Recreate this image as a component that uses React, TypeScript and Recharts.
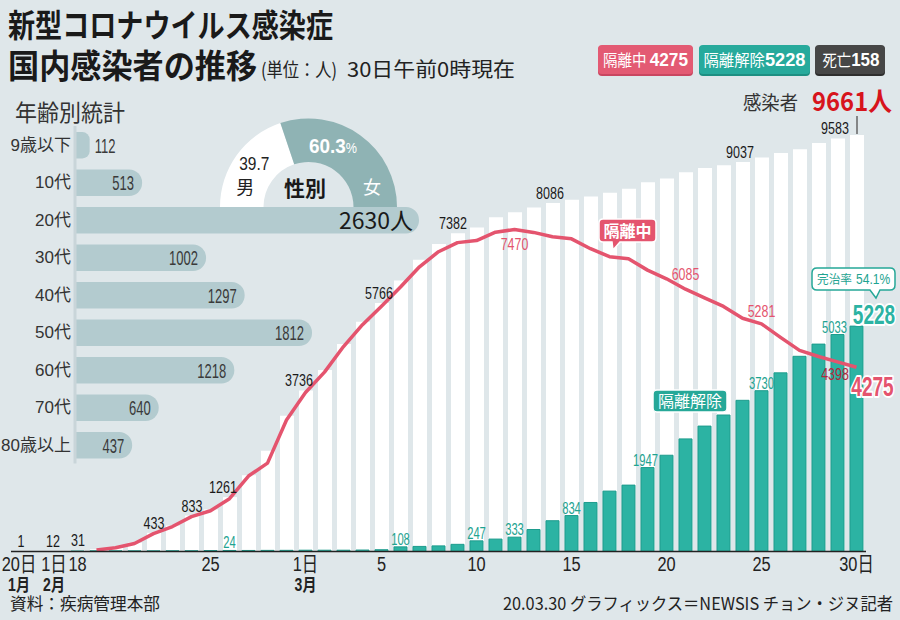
import React from "react";
import { ComposedChart, Bar, Line, XAxis, YAxis, LabelList, BarChart, PieChart, Pie, Cell } from "recharts";

const LSANS = "'Liberation Sans', Arial, 'Noto Sans CJK JP', sans-serif";
const JP = "'Noto Sans CJK JP', 'Noto Sans', sans-serif";

// ---- data ----
const dates = [
  "1/20", "gap", "2/1",
  "2/18", "2/19", "2/20", "2/21", "2/22", "2/23", "2/24", "2/25", "2/26", "2/27", "2/28", "2/29",
  "3/1", "3/2", "3/3", "3/4", "3/5", "3/6", "3/7", "3/8", "3/9", "3/10",
  "3/11", "3/12", "3/13", "3/14", "3/15", "3/16", "3/17", "3/18", "3/19", "3/20",
  "3/21", "3/22", "3/23", "3/24", "3/25", "3/26", "3/27", "3/28", "3/29", "3/30",
];
const confirmed = [
  1, 0, 12,
  31, 51, 104, 204, 433, 602, 833, 977, 1261, 1766, 2337, 3150,
  3736, 4212, 4812, 5328, 5766, 6284, 6767, 7134, 7382, 7513,
  7755, 7869, 7979, 8086, 8162, 8236, 8320, 8413, 8565, 8652,
  8799, 8897, 8961, 9037, 9137, 9241, 9332, 9478, 9583, 9661,
];
const released = [
  0, 0, 0,
  12, 16, 16, 16, 16, 18, 18, 22, 24, 24, 26, 27,
  30, 30, 30, 34, 41, 108, 118, 130, 166, 247,
  288, 333, 510, 714, 834, 1137, 1401, 1540, 1947, 2233,
  2612, 2909, 3166, 3507, 3730, 4144, 4528, 4811, 5033, 5228,
];
const isolated = [
  null, null, null,
  null, 35, 87, 186, 415, 579, 808, 945, 1225, 1750, 2050, 3050,
  3689, 4160, 4754, 5261, 5690, 6134, 6605, 6954, 7165, 7212,
  7407, 7470, 7402, 7300, 7253, 7024, 6838, 6789, 6527, 6325,
  6085, 5884, 5684, 5410, 5281, 4966, 4665, 4523, 4398, 4275,
];

const confirmedLabelDates = ["1/20", "2/1", "2/18", "2/22", "2/24", "2/26", "3/1", "3/5", "3/9", "3/14", "3/24", "3/29"];
const releasedLabelDates = ["2/26", "3/6", "3/10", "3/12", "3/15", "3/19", "3/25", "3/29", "3/30"];
const isolatedLabelDates = ["3/12", "3/21", "3/25", "3/29", "3/30"];

const tickDates = ["1/20", "2/1", "2/18", "2/25", "3/1", "3/5", "3/10", "3/15", "3/20", "3/25", "3/30"];
const tickDayText = ["20日", "1日", "18", "25", "1日", "5", "10", "15", "20", "25", "30日"];
const monthTickDates = ["1/20", "2/1", "3/1"];
const monthText = ["1月", "2月", "3月"];

const ageGroups = ["9歳以下", "10代", "20代", "30代", "40代", "50代", "60代", "70代", "80歳以上"];
const ageCounts = [112, 513, 2630, 1002, 1297, 1812, 1218, 640, 437];
const highlightAge = "20代";

const genderNames = ["男", "女"];
const genderShares = [39.7, 60.3];

const totalInfected = 9661;
const nowIsolated = 4275;
const nowReleased = 5228;
const deaths = 158;
const cureRate = 54.1;

const rows = dates.map((d, i) => ({
  date: d,
  confirmed: confirmed[i],
  released: released[i],
  isolated: isolated[i],
  cLabel: confirmedLabelDates.includes(d) ? confirmed[i] : null,
  rLabel: releasedLabelDates.includes(d) ? released[i] : null,
  iLabel: isolatedLabelDates.includes(d) ? isolated[i] : null,
}));
const ageRows = ageGroups.map((g, i) => ({ group: g, count: ageCounts[i] }));
const genderRows = genderNames.map((n, i) => ({ name: n, share: genderShares[i] }));

// ---- colours ----
const BG = "#dfe7ea";
const PINK = "#e4546e";
const TEAL = "#2cb3a3";
const TEAL_DARK = "#1e9c8d";
const TEAL_TEXT = "#1ea391";

// ---- label styling offsets (presentation only) ----
const cDx: Record<string, number> = { "2/1": -6, "2/26": -7, "3/1": -7, "3/5": -3, "3/9": -5, "3/14": -3, "3/24": -3, "3/29": -3 };
const rDx: Record<string, number> = { "3/19": -2, "3/29": -3 };
const iOff: Record<string, [number, number, string]> = {
  "3/12": [0, 20.5, PINK],
  "3/21": [0, -9, PINK],
  "3/25": [0, -7, PINK],
  "3/29": [-2.5, 18, "#b0283b"],
};
const tickDx: Record<string, number> = { "1/20": -1.5, "2/1": -4.5 };

// condensed text helper (horizontal scale)
const NText = (props: any) => {
  const { x, y, sx = 0.78, anchor = "middle", size = 16, weight, fill = "#222", stroke, strokeWidth, family = LSANS, children } = props;
  return (
    <text transform={`translate(${x},${y}) scale(${sx},1)`} textAnchor={anchor} fontSize={size} fontWeight={weight}
      fontFamily={family} fill={fill} stroke={stroke} strokeWidth={strokeWidth} paintOrder="stroke" strokeLinejoin="round">
      {children}
    </text>
  );
};

const vbOf = (p: any) => {
  const vb = p.viewBox || {};
  return {
    x: vb.x ?? p.x ?? 0,
    y: vb.y ?? p.y ?? 0,
    width: vb.width ?? p.width ?? 0,
    height: vb.height ?? p.height ?? 0,
  };
};
// find the category of a labelled value within its own series
const dateByValue = (series: (number | null)[], v: number) => dates[series.indexOf(v)];

const ConfirmedLabel = (p: any) => {
  if (p.value == null) return null;
  const { x, y, width } = vbOf(p);
  const d = dateByValue(confirmed, p.value);
  return <NText x={x + width / 2 + (cDx[d] ?? 0)} y={y - 4} size={16.5} sx={0.76} fill="#1a1a1a">{p.value}</NText>;
};

const ReleasedLabel = (p: any) => {
  if (p.value == null) return null;
  const { x, y, width } = vbOf(p);
  const d = dateByValue(released, p.value);
  if (d === "3/30") {
    return (
      <NText x={x + width / 2 + 17.5} y={y - 2} size={28} sx={0.68} weight={700} fill={TEAL} stroke="#fff" strokeWidth={4}>
        {p.value}
      </NText>
    );
  }
  return <NText x={x + width / 2 + (rDx[d] ?? 0)} y={y - 2} size={16.5} sx={0.68} fill={TEAL_TEXT}>{p.value}</NText>;
};

const IsolatedLabel = (p: any) => {
  if (p.value == null) return null;
  const { x, y } = vbOf(p);
  const d = dateByValue(isolated, p.value);
  if (d === "3/30") {
    return (
      <NText x={x + 16} y={y + 29} size={28} sx={0.68} weight={700} fill={PINK} stroke="#fff" strokeWidth={4}>
        {p.value}
      </NText>
    );
  }
  const o = iOff[d] ?? [0, -8, PINK];
  return <NText x={x + o[0]} y={y + o[1]} size={16.5} sx={0.75} fill={o[2]}>{p.value}</NText>;
};

const DateTick = (p: any) => {
  const { x, y, payload } = p;
  const d = payload?.value;
  const ti = tickDates.indexOf(d);
  const mi = monthTickDates.indexOf(d);
  const dx = tickDx[d] ?? 0;
  return (
    <g>
      {ti >= 0 && <NText x={x + dx} y={y + 19.5} size={21} sx={0.78} fill="#222">{tickDayText[ti]}</NText>}
      {mi >= 0 && <NText x={x + dx} y={y + 39.5} size={17.5} sx={0.8} weight={700} fill="#222">{monthText[mi]}</NText>}
    </g>
  );
};

const AgeLabel = (p: any) => {
  const { x, y, width, height } = vbOf(p);
  const cy = y + height / 2;
  const g = ageGroups[ageCounts.indexOf(p.value)];
  if (g === highlightAge) {
    return (
      <text x={x + width - 6} y={cy + 9} textAnchor="end" fontSize={23} fontFamily={JP} fill="#1a1a1a">
        {p.value}人
      </text>
    );
  }
  if (width < 30) {
    return <NText x={x + width + 5} y={cy + 7.5} anchor="start" size={21} sx={0.62} fill="#3a3a3a">{p.value}</NText>;
  }
  return <NText x={x + width - 8} y={cy + 7.5} anchor="end" size={21} sx={0.62} fill="#3a3a3a">{p.value}</NText>;
};

const RAD = Math.PI / 180;
const GenderLabel = (p: any) => {
  const r = (p.innerRadius + p.outerRadius) / 2;
  const x = p.cx + r * Math.cos(-p.midAngle * RAD);
  const y = p.cy + r * Math.sin(-p.midAngle * RAD);
  if (p.index === 0) {
    return (
      <g>
        <NText x={x} y={y + 2} size={18} sx={0.86} fill="#222">{p.value}</NText>
        <text x={x - 9} y={y + 26} textAnchor="middle" fontSize={18} fontFamily={JP} fill="#222">{p.name}</text>
      </g>
    );
  }
  return (
    <g>
      <text transform={`translate(${x - 14.5},${y}) scale(0.9,1)`} textAnchor="middle" fontFamily={LSANS} fill="#fff">
        <tspan fontSize={21} fontWeight={700}>{p.value}</tspan>
        <tspan fontSize={14}>%</tspan>
      </text>
      <text x={x + 24.5} y={y + 41} textAnchor="middle" fontSize={18} fontFamily={JP} fill="#fff">{p.name}</text>
    </g>
  );
};

export default function App() {
  return (
    <div style={{ position: "absolute", left: 0, top: 0, width: 900, height: 620, background: BG, overflow: "hidden", fontFamily: JP }}>
      {/* main time-series chart */}
      <div style={{ position: "absolute", left: 0, top: 0 }}>
        <ComposedChart width={900} height={620} data={rows} margin={{ top: 120.4, right: 34, bottom: 18.5, left: 11 }}>
          <XAxis xAxisId="a" dataKey="date" height={50} interval={0} tickSize={0} tickMargin={0} tickLine={false}
            axisLine={{ stroke: "#222", strokeWidth: 1.5 }} tick={<DateTick />} />
          <XAxis xAxisId="b" dataKey="date" hide />
          <YAxis hide domain={[0, 10000]} />
          <Bar xAxisId="a" dataKey="confirmed" fill="#ffffff" barSize={14} isAnimationActive={false}>
            <LabelList dataKey="cLabel" content={ConfirmedLabel} />
          </Bar>
          <Bar xAxisId="b" dataKey="released" fill={TEAL} stroke={TEAL_DARK} strokeWidth={1} barSize={13} isAnimationActive={false}>
            <LabelList dataKey="rLabel" content={ReleasedLabel} />
          </Bar>
          <Line xAxisId="a" dataKey="isolated" type="linear" stroke={PINK} strokeWidth={3.5} dot={false} activeDot={false}
            isAnimationActive={false} strokeLinejoin="round">
            <LabelList dataKey="iLabel" content={IsolatedLabel} />
          </Line>
        </ComposedChart>
      </div>

      {/* age-group bars */}
      <div style={{ position: "absolute", left: 0, top: 126.25 }}>
        <BarChart layout="vertical" width={468} height={337.5} data={ageRows} margin={{ top: 0, right: 0.6, bottom: 0, left: 0 }}>
          <XAxis type="number" domain={[0, 3000]} hide />
          <YAxis type="category" dataKey="group" width={75} interval={0} tickLine={false} tickSize={0} tickMargin={4}
            axisLine={{ stroke: "#c9d5d9", strokeWidth: 3 }}
            tick={{ fontSize: 17, fill: "#333", fontFamily: LSANS }} />
          <Bar dataKey="count" fill="#b3cbcf" barSize={26.5} radius={[0, 13, 13, 0]} isAnimationActive={false}>
            <LabelList dataKey="count" content={AgeLabel} />
          </Bar>
        </BarChart>
      </div>

      {/* gender half-donut */}
      <div style={{ position: "absolute", left: 208, top: 107 }}>
        <PieChart width={200} height={101} margin={{ top: 0, right: 0, bottom: 0, left: 0 }}>
          <Pie data={genderRows} dataKey="share" nameKey="name" cx={100.5} cy={100} startAngle={180} endAngle={0}
            innerRadius={45} outerRadius={88.5} stroke="none" isAnimationActive={false} label={GenderLabel} labelLine={false}>
            <Cell fill="#ffffff" />
            <Cell fill="#8fb3b4" />
          </Pie>
        </PieChart>
      </div>

      {/* annotations */}
      <svg width={900} height={620} style={{ position: "absolute", left: 0, top: 0, pointerEvents: "none" }}>
        <text x={8} y={37} fontSize={32} fontWeight={700} fontFamily={JP} textLength={325} lengthAdjust="spacingAndGlyphs" fill="#1a1a1a">新型コロナウイルス感染症</text>
        <text x={8} y={78} fontSize={33} fontWeight={700} fontFamily={JP} textLength={249} lengthAdjust="spacingAndGlyphs" fill="#1a1a1a">国内感染者の推移</text>
        <text x={261} y={77} fontSize={19} fontFamily={JP} textLength={76} lengthAdjust="spacingAndGlyphs" fill="#222">(単位：人)</text>
        <text x={347} y={77} fontSize={20} fontFamily={JP} textLength={168} lengthAdjust="spacingAndGlyphs" fill="#222">30日午前0時現在</text>

        <text x={15} y={121} fontSize={23} fontFamily={JP} textLength={110} lengthAdjust="spacingAndGlyphs" fill="#333">年齢別統計</text>

        <text x={305} y={196} textAnchor="middle" fontSize={21} fontWeight={700} fontFamily={JP} fill="#1a1a1a">性別</text>

        {/* status badges */}
        <rect x={598} y={46} width={95} height={30} rx={4} fill="#c94660" />
        <rect x={598} y={45} width={95} height={29} rx={4} fill="#e35a73" />
        <text x={645.5} y={66} textAnchor="middle" fill="#fff" fontFamily={JP} textLength={85} lengthAdjust="spacingAndGlyphs">
          <tspan fontSize={16}>隔離中 </tspan>
          <tspan fontSize={19} fontWeight={700} fontFamily={LSANS}>{nowIsolated}</tspan>
        </text>
        <rect x={699} y={46} width={111} height={30} rx={4} fill="#1d8f82" />
        <rect x={699} y={45} width={111} height={29} rx={4} fill="#27aa9c" />
        <text x={754.5} y={66} textAnchor="middle" fill="#fff" fontFamily={JP} textLength={102} lengthAdjust="spacingAndGlyphs">
          <tspan fontSize={16}>隔離解除</tspan>
          <tspan fontSize={19} fontWeight={700} fontFamily={LSANS}>{nowReleased}</tspan>
        </text>
        <rect x={815} y={46} width={70} height={30} rx={4} fill="#2e2e2e" />
        <rect x={815} y={45} width={70} height={29} rx={4} fill="#474747" />
        <text x={851} y={66} textAnchor="middle" fill="#fff" fontFamily={JP} textLength={57} lengthAdjust="spacingAndGlyphs">
          <tspan fontSize={16}>死亡</tspan>
          <tspan fontSize={19} fontWeight={700} fontFamily={LSANS}>{deaths}</tspan>
        </text>

        <text x={743} y={110} fontSize={19} fontFamily={JP} textLength={55} lengthAdjust="spacingAndGlyphs" fill="#333">感染者</text>
        <text x={812} y={111} fontSize={26} fontWeight={700} fontFamily={JP} textLength={80} lengthAdjust="spacingAndGlyphs" fill="#d7141c">{totalInfected}人</text>
        <line x1={857} y1={116} x2={857} y2={134} stroke="#666" strokeWidth={1.5} />

        {/* 隔離中 callout */}
        <path d="M603,219 H652 Q656,219 656,223 V238 Q656,242 652,242 H620 L613,250 L612,242 H603 Q599,242 599,238 V223 Q599,219 603,219 Z"
          fill={PINK} stroke="#fff" strokeWidth={1.5} />
        <text x={627.5} y={237} textAnchor="middle" fontSize={16} fontWeight={700} fontFamily={JP} fill="#fff">隔離中</text>

        {/* 隔離解除 badge */}
        <rect x={653} y={390} width={74} height={22} rx={4} fill="#26a898" stroke="#fff" strokeWidth={1.5} />
        <text x={690} y={407} textAnchor="middle" fontSize={16} fontFamily={JP} fill="#fff">隔離解除</text>

        {/* 完治率 callout */}
        <path d="M817,268 H890 Q895,268 895,273 V285 Q895,290 890,290 H880 L876,298 L870,290 H817 Q812,290 812,285 V273 Q812,268 817,268 Z"
          fill="#fff" stroke="#26a898" strokeWidth={1.5} />
        <text x={817} y={284} fontSize={12.5} fontFamily={JP} fill={TEAL_TEXT} textLength={35} lengthAdjust="spacingAndGlyphs">完治率</text>
        <NText x={856} y={284} anchor="start" size={14} sx={0.86} fill={TEAL_TEXT}>{cureRate}%</NText>

        {/* footer */}
        <text x={10} y={610} fontSize={17} fontFamily={JP} textLength={150} lengthAdjust="spacingAndGlyphs" fill="#222">資料：疾病管理本部</text>
        <text x={893} y={610} textAnchor="end" fontSize={17.5} fontFamily={JP} textLength={390} lengthAdjust="spacingAndGlyphs" fill="#222">20.03.30 グラフィックス＝NEWSIS チョン・ジヌ記者</text>
      </svg>
    </div>
  );
}
